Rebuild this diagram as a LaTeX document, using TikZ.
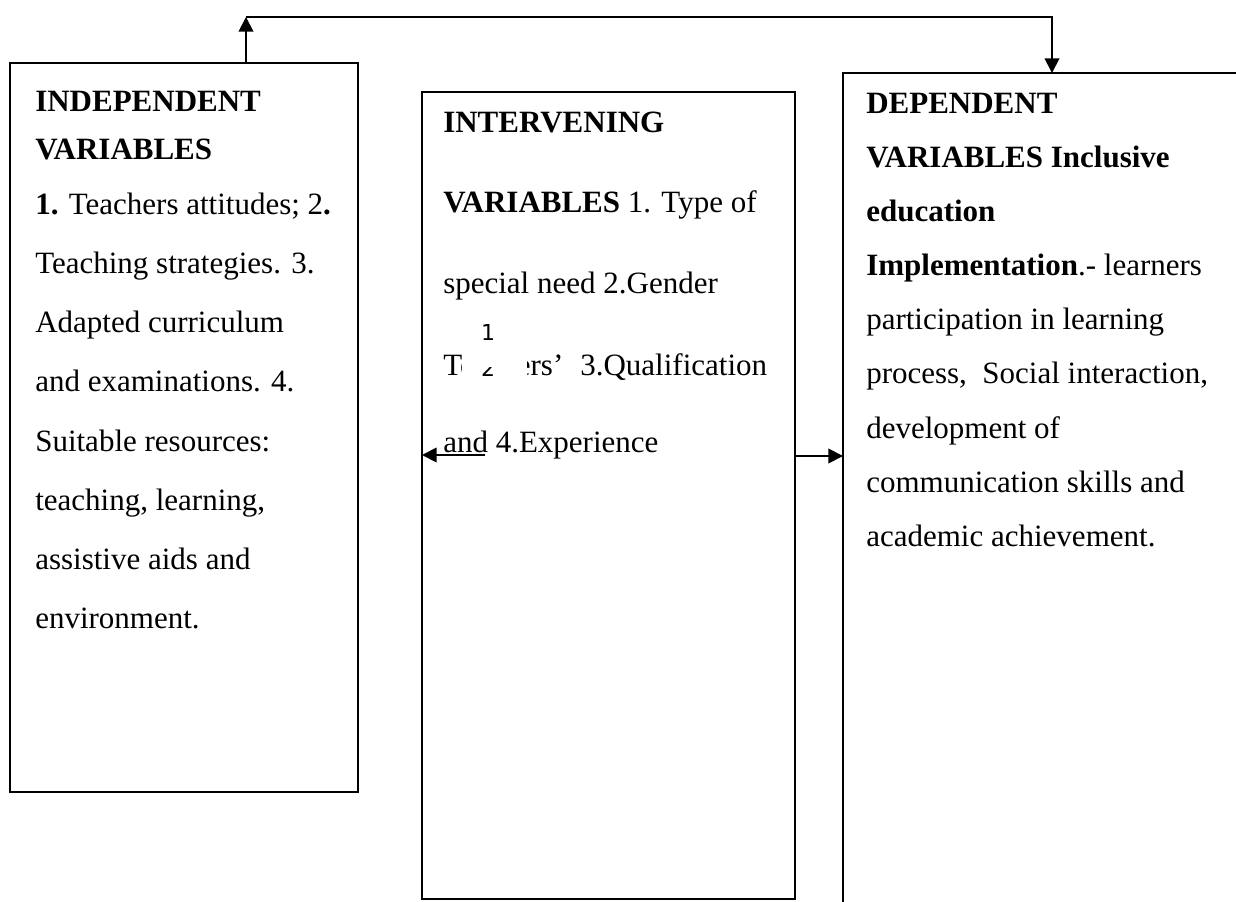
\documentclass[tikz,border=0pt]{standalone}
\usepackage{fontspec}
\setmainfont{Liberation Serif}
\newfontfamily\numfont{DejaVu Sans}
\usetikzlibrary{arrows.meta}
\begin{document}
\begin{tikzpicture}[x=0.75pt,y=-0.75pt,
  frame/.style={draw, line width=1.4pt, anchor=north west, inner sep=0pt, outer sep=0pt},
  txt/.style={anchor=base west, inner sep=0pt, font=\fontsize{23.25}{28}\selectfont},
  head/.style={txt, font=\fontsize{23.25}{28}\selectfont\bfseries},
  num/.style={anchor=base, inner sep=0pt, font=\numfont\fontsize{16.5}{20}\selectfont},
  link/.style={line width=1.4pt, -{Triangle[length=11pt,width=11pt]}}]
\useasboundingbox (0,0) rectangle (1236,902);
\clip (0,0) rectangle (1236,902);

% the three variable boxes
\node[frame, minimum width=261pt, minimum height=546.75pt] (indep) at (10,63) {};
\node[frame, minimum width=279.75pt, minimum height=605.25pt] (inter) at (422,92) {};
\node[frame, minimum width=345pt, minimum height=660pt] (dep) at (843,73) {};

% independent variables
\node[head] (l1) at (35,112) {INDEPENDENT};
\node[head] (l2) at (35,160) {VARIABLES};
\node[txt] (l3) at (35,215) {\textbf{1.} Teachers attitudes; 2\textbf{.}};
\node[txt] (l4) at (35,274) {Teaching strategies. 3.};
\node[txt] (l5) at (35,333) {Adapted curriculum};
\node[txt] (l6) at (35,392) {and examinations. 4.};
\node[txt] (l7) at (35,451) {Suitable resources:};
\node[txt] (l8) at (35,510) {teaching, learning,};
\node[txt] (l9) at (35,569) {assistive aids and};
\node[txt] (l10) at (35,628) {environment.};

% intervening variables
\node[head] (m1) at (443,133) {INTERVENING};
\node[txt] (m2) at (443,213) {\textbf{VARIABLES} 1. Type of};
\node[txt] (m3) at (443,294) {special need 2.Gender};
\node[txt] (m4) at (443,376) {Teachers’\hspace{0.55em}3.Qualification};
\node[txt] (m5) at (443,452) {and 4.Experience};
% page-number patch lying over the word "Teachers"
\fill[white] (462,300) rectangle (527,386);
\node[num] (one) at (488,341) {1};
\begin{scope}
  \clip (470,368) rectangle (510,390);
  \node[num] (two) at (488,377) {2};
\end{scope}

% dependent variables
\node[head] (r1) at (866,114) {DEPENDENT};
\node[head] (r2) at (866,168) {VARIABLES Inclusive};
\node[head] (r3) at (866,222) {education};
\node[txt] (r4) at (866,276) {\textbf{Implementation}.- learners};
\node[txt] (r5) at (866,330) {participation in learning};
\node[txt] (r6) at (866,384) {process,\ \ Social interaction,};
\node[txt] (r7) at (866,438) {development of};
\node[txt] (r8) at (866,492) {communication skills and};
\node[txt] (r9) at (866,546) {academic achievement.};

% connectors
\coordinate (up) at (246,17);
\coordinate (down) at (1052,17);
\coordinate (row) at (0,456);
\coordinate (andend) at (485,455);
\draw[link] (indep.north -| up) -- (up);
\draw[link] (up) -- (down) -- (down |- dep.north);
\draw[link] (inter.east |- row) -- (dep.west |- row);
\draw[link] (andend) -- (inter.west |- andend);
\end{tikzpicture}
\end{document}
